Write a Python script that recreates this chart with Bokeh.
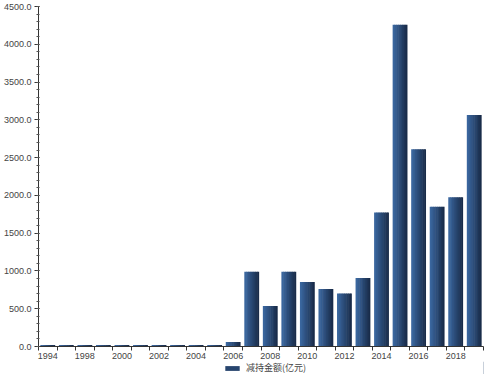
from bokeh.plotting import figure
from bokeh.layouts import column
from bokeh.models import (ColumnDataSource, Range1d, FixedTicker, SingleIntervalTicker,
                          PrintfTickFormatter, Legend, LegendItem)
from bokeh.transform import dodge
from bokeh.embed import file_html
from bokeh.resources import INLINE

years = ["1994", "1996", "1998", "1999", "2000", "2001", "2002", "2003", "2004", "2005",
         "2006", "2007", "2008", "2009", "2010", "2011", "2012", "2013", "2014", "2015",
         "2016", "2017", "2018", "2019"]
amounts = [20, 20, 20, 20, 20, 20, 20, 20, 20, 20,
           58, 990, 535, 990, 855, 760, 700, 905, 1775, 4260,
           2610, 1850, 1975, 3065]
series_name = "减持金额(亿元)"

idx = list(range(len(years)))
source = ColumnDataSource(dict(x=idx, y=amounts))

p = figure(width=492, height=361, output_backend="svg", toolbar_location=None,
           x_range=Range1d(-0.5, len(years) - 0.5), y_range=Range1d(0, 4500),
           min_border_left=36, min_border_right=9, min_border_top=6, min_border_bottom=0)
p.outline_line_color = None
p.xgrid.visible = False
p.ygrid.visible = False
p.background_fill_color = "white"

# horizontal gradient imitation with strips
n = 8
c0 = (0x3a, 0x66, 0x9e)
c1 = (0x19, 0x2c, 0x4a)
bw = 0.8
colors = []
for k in range(n):
    t = k / (n - 1)
    col = "#%02x%02x%02x" % tuple(int(round(a + (b - a) * t)) for a, b in zip(c0, c1))
    colors.append(col)
    w = bw / n
    off = -bw / 2 + w * (k + 0.5)
    ww = w if k == n - 1 else w + 0.03
    offc = off + (ww - w) / 2
    p.vbar(x=dodge("x", offc), top="y", bottom=0, width=ww, source=source,
           fill_color=col, line_color=None)

label_font = "Liberation Sans"
# x axis
xa = p.xaxis[0]
label_ticks = [i for i in idx if i % 2 == 0]
xa.ticker = FixedTicker(ticks=label_ticks, minor_ticks=[i - 0.5 for i in idx] + [len(years) - 0.5])
xa.major_label_overrides = {i: years[i] for i in label_ticks}
xa.major_tick_line_color = None
xa.major_tick_out = 0
xa.major_tick_in = 0
xa.minor_tick_out = 4
xa.minor_tick_in = 0
xa.minor_tick_line_color = "#333333"
xa.axis_line_color = "#333333"
xa.major_label_text_font = label_font
xa.major_label_text_font_size = "9px"
xa.major_label_text_color = "#444444"
xa.major_label_standoff = 2

# y axis
ya = p.yaxis[0]
ya.ticker = SingleIntervalTicker(interval=500, num_minor_ticks=5)
ya.formatter = PrintfTickFormatter(format="%.1f")
ya.axis_line_color = "#333333"
ya.major_tick_line_color = "#333333"
ya.minor_tick_line_color = "#555555"
ya.major_tick_out = 4
ya.major_tick_in = 1
ya.minor_tick_out = 2
ya.minor_tick_in = 1
ya.major_label_text_font = label_font
ya.major_label_text_font_size = "9px"
ya.major_label_text_color = "#444444"
ya.major_label_standoff = 3

# legend strip
lf = figure(width=492, height=13, output_backend="svg", toolbar_location=None,
            x_range=Range1d(0, 1), y_range=Range1d(0, 1),
            min_border=0, min_border_left=0, min_border_right=0,
            min_border_top=0, min_border_bottom=0)
lf.axis.visible = False
lf.grid.visible = False
lf.outline_line_color = None
swatch = lf.vbar(x=[5], top=[1], width=0.1, fill_color=colors[n // 2], line_color=None)
legend = Legend(items=[LegendItem(label=series_name, renderers=[swatch])],
                orientation="horizontal", location=(185, 0),
                label_text_font="Noto Sans CJK SC", label_text_font_size="9px",
                label_text_color="#444444", glyph_width=18, glyph_height=6,
                label_height=13, label_width=10,
                padding=0, margin=0, spacing=4, label_standoff=5,
                border_line_color=None, background_fill_alpha=0)
lf.add_layout(legend, "center")

layout = column(p, lf, spacing=0)
open("out.html", "w").write(file_html(layout, INLINE))
